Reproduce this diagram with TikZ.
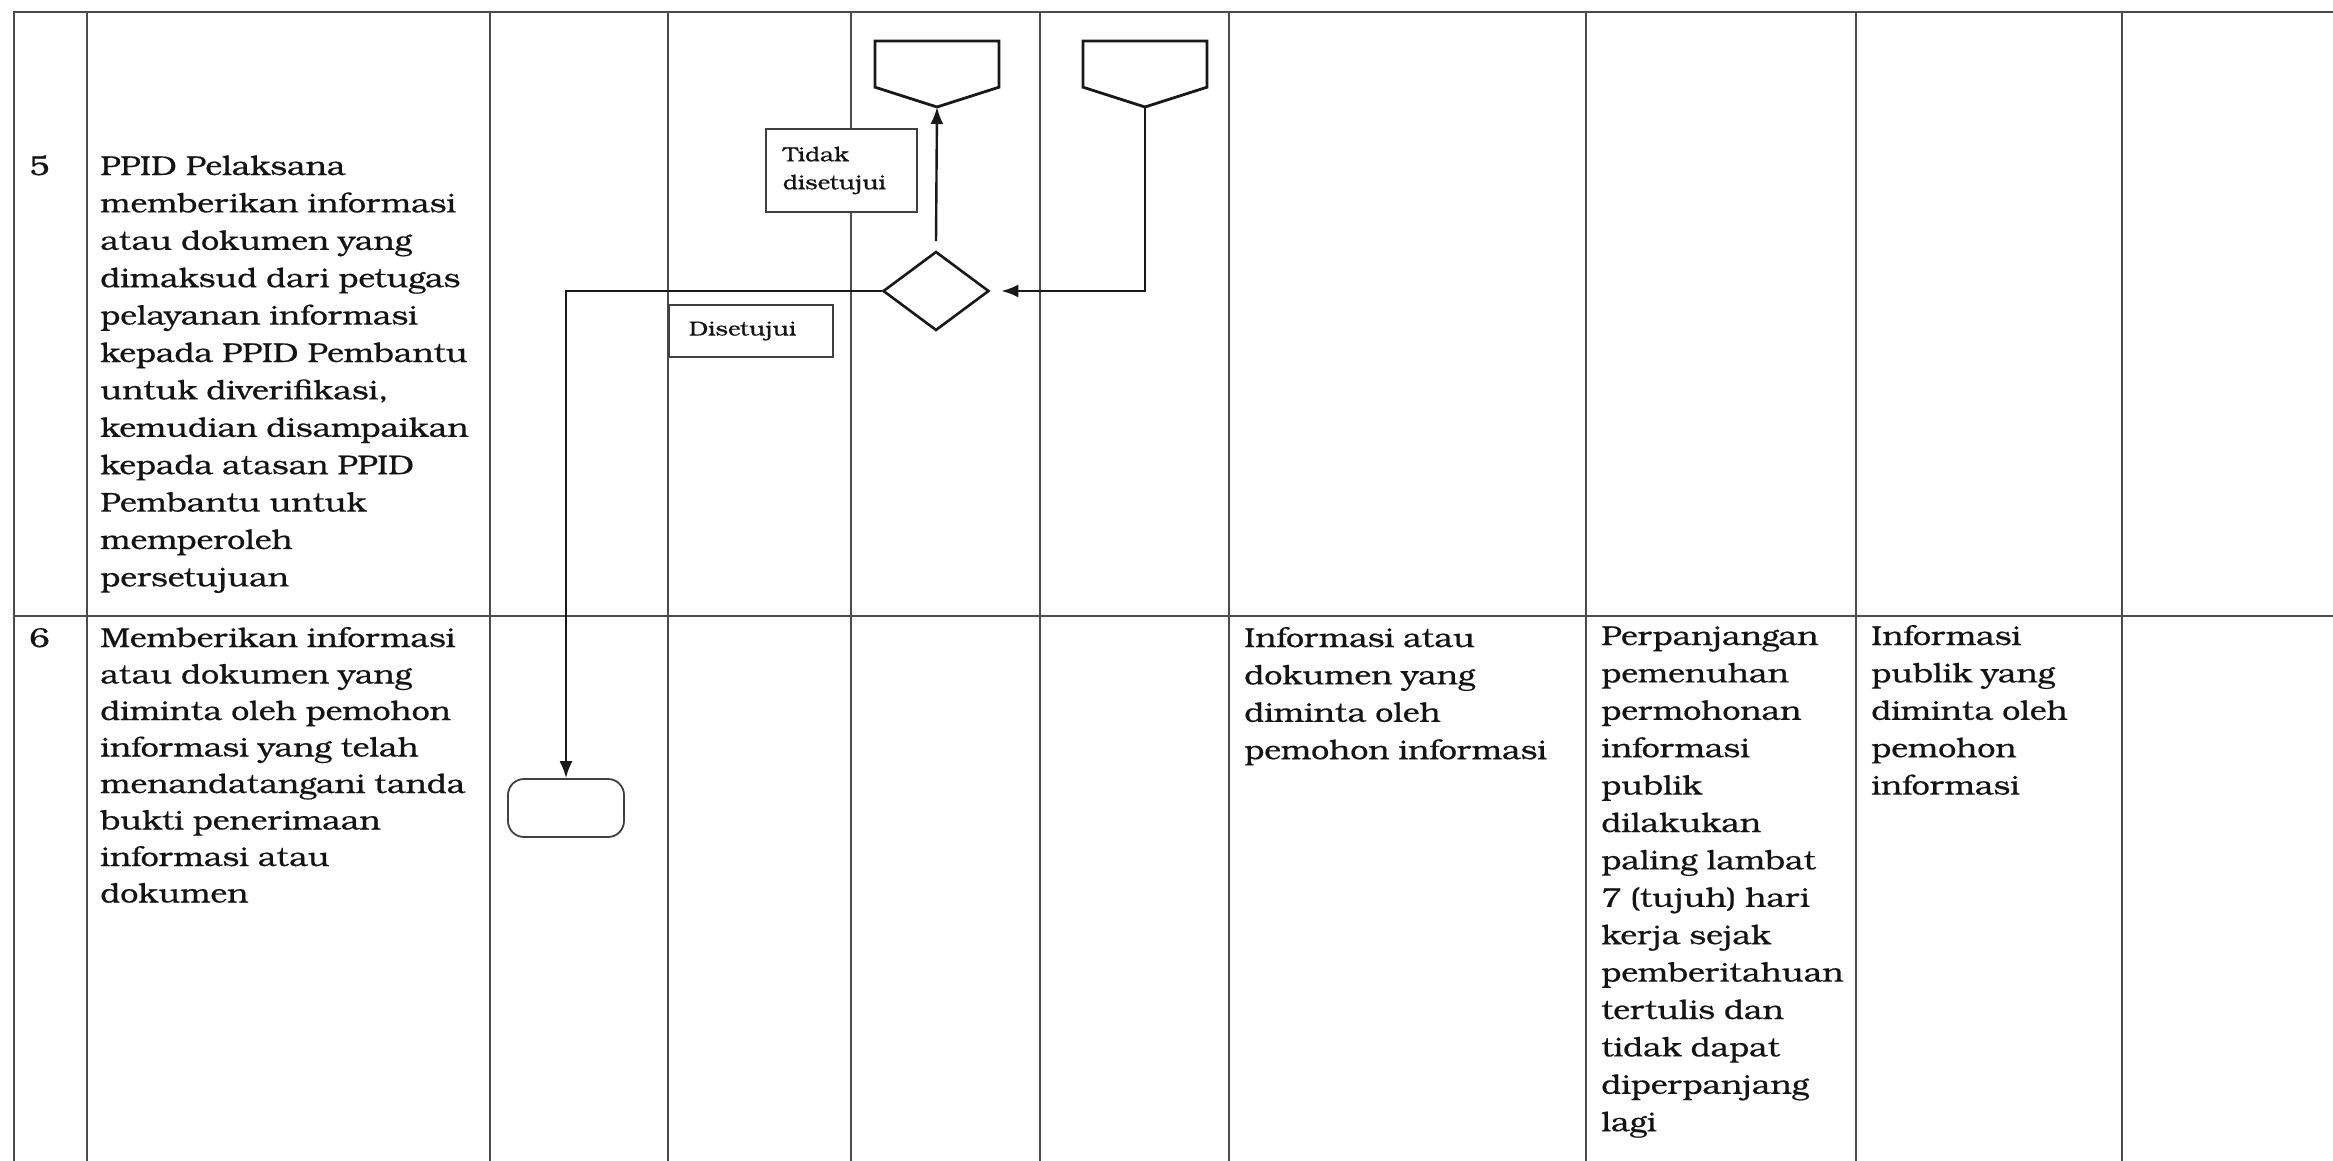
\documentclass[tikz,border=0pt]{standalone}
\usepackage{fontspec}
\setmainfont[FakeStretch=1.18,FakeBold=0.6]{TeX Gyre Bonum}
\usetikzlibrary{shapes.geometric,arrows.meta,calc}
\begin{document}
\begin{tikzpicture}[x=0.5pt,y=-0.5pt,
  tablerule/.style={draw=black!70,line width=0.75pt},
  body/.style={anchor=base west,inner sep=0pt,text width=300pt,align=left,
    font=\fontsize{13.6}{18.7}\selectfont,text=black!92},
  lbl/.style={draw=black!75,line width=0.7pt,fill=white,inner xsep=0pt,inner ysep=0pt,
    align=left,font=\fontsize{10.2}{14}\selectfont,text=black!92},
  offpage/.style={inner sep=0pt,outer sep=0pt,minimum width=62pt,minimum height=33pt},
  outline/.style={draw=black!90,line width=1.4pt,line join=miter},
  decision/.style={diamond,draw=black!90,line width=1.3pt,inner sep=0pt,
    minimum width=53pt,minimum height=39.5pt},
  terminator/.style={draw=black!75,line width=0.9pt,rounded corners=8pt,inner sep=0pt,
    minimum width=58pt,minimum height=29pt},
  conn/.style={draw=black!90,line width=1.2pt,-{Latex[length=8.5pt,width=6.5pt]}}
]
\useasboundingbox (0,0) rectangle (2333,1161);
\fill[white] (0,0) rectangle (2333,1161);

% table
\draw[tablerule] (2333,12) -- (14,12) -- (14,1161);
\draw[tablerule] (14,616) -- (2333,616);
\foreach \xx in {87,490,668,851,1040,1229,1586,1856,2122}
  \draw[tablerule] (\xx,12) -- (\xx,1161);

% row 5
\node[body] (n5) at (29,175) {5};
\node[body] (t5) at (100,175) {PPID Pelaksana\\memberikan informasi\\atau dokumen yang\\dimaksud dari petugas\\pelayanan informasi\\kepada PPID Pembantu\\untuk diverifikasi,\\kemudian disampaikan\\kepada atasan PPID\\Pembantu untuk\\memperoleh\\persetujuan};

% row 6
\node[body] (n6) at (29,647) {6};
\node[body,font=\fontsize{13.6}{18.25}\selectfont] (t6) at (100,647) {Memberikan informasi\\atau dokumen yang\\diminta oleh pemohon\\informasi yang telah\\menandatangani tanda\\bukti penerimaan\\informasi atau\\dokumen};
\node[body] (k1) at (1244,647) {Informasi atau\\dokumen yang\\diminta oleh\\pemohon informasi};
\node[body] (k2) at (1601,645) {Perpanjangan\\pemenuhan\\permohonan\\informasi\\publik\\dilakukan\\paling lambat\\7 (tujuh) hari\\kerja sejak\\pemberitahuan\\tertulis dan\\tidak dapat\\diperpanjang\\lagi};
\node[body] (k3) at (1871,645) {Informasi\\publik yang\\diminta oleh\\pemohon\\informasi};

% flow shapes
\node[offpage] (pA) at (937,74) {};
\node[offpage] (pB) at (1145,74) {};
\draw[outline] (pA.north west) -- (pA.north east) -- ($(pA.north east)!0.7!(pA.south east)$) -- (pA.south) -- ($(pA.north west)!0.7!(pA.south west)$) -- cycle;
\draw[outline] (pB.north west) -- (pB.north east) -- ($(pB.north east)!0.7!(pB.south east)$) -- (pB.south) -- ($(pB.north west)!0.7!(pB.south west)$) -- cycle;
\node[decision] (dia) at (936,291) {};
\node[terminator] (term) at (566,808) {};

% connectors
\draw[conn] (dia.west) -| (term.north);
\draw[conn] ([yshift=4.5pt]dia.north) -- (pA.south);
\draw[conn] (pB.south) |- ([xshift=5.5pt]dia.east);

% labels
\node[lbl,minimum width=75.5pt,minimum height=41.5pt,text width=58.5pt] (tidak) at (841.5,170.5) {Tidak\\disetujui};
\node[lbl,minimum width=82pt,minimum height=26pt,text width=62pt] (setuju) at (751,331) {Disetujui};
\end{tikzpicture}
\end{document}
